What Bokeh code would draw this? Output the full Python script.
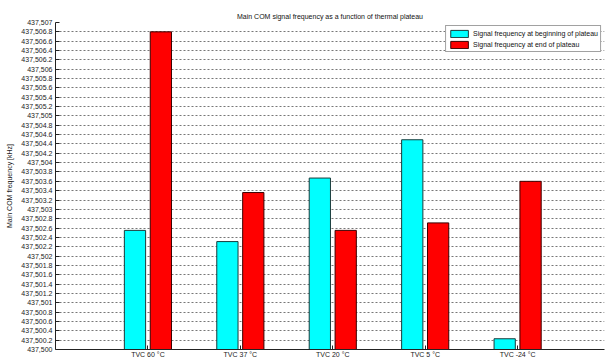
from bokeh.plotting import figure
from bokeh.models import ColumnDataSource, FixedTicker, NumeralTickFormatter, Range1d, Legend, LegendItem
from bokeh.transform import dodge
from bokeh.embed import file_html
from bokeh.resources import INLINE

categories = ["TVC 60 °C", "TVC 37 °C", "TVC 20 °C", "TVC 5 °C", "TVC -24 °C"]
begin_khz = [437502.55, 437502.31, 437503.67, 437504.49, 437500.23]
end_khz = [437506.80, 437503.36, 437502.55, 437502.71, 437503.60]
y_ticks = [round(437500 + 0.2 * i, 1) for i in range(36)]

FONT = "Liberation Sans"
FS = "7px"

src = ColumnDataSource(dict(
    idx=list(range(1, len(categories) + 1)),
    begin=begin_khz,
    end=end_khz,
))

p = figure(width=605, height=360, output_backend="svg", toolbar_location=None,
           x_range=Range1d(0, 5.94), y_range=Range1d(437500, 437507),
           min_border_left=55, min_border_right=1, min_border_top=22, min_border_bottom=0)

p.title.text = "Main COM signal frequency as a function of thermal plateau"
p.title.align = "center"
p.title.text_font = FONT
p.title.text_font_size = FS
p.title.text_font_style = "normal"
p.title.text_color = "#111"
p.title.standoff = 6

r1 = p.vbar(x=dodge("idx", -0.14, range=p.x_range), top="begin", bottom=437500, width=0.23,
            source=src, fill_color="#00FFFF", line_color="#1a3a3a", line_width=1)
r2 = p.vbar(x=dodge("idx", 0.14, range=p.x_range), top="end", bottom=437500, width=0.23,
            source=src, fill_color="#FF0000", line_color="#3a0000", line_width=1)

# axes
p.xaxis.ticker = FixedTicker(ticks=list(range(1, len(categories) + 1)))
p.xaxis.major_label_overrides = {i + 1: c for i, c in enumerate(categories)}
p.yaxis.ticker = FixedTicker(ticks=y_ticks)
p.yaxis.formatter = NumeralTickFormatter(format="0,0.[0]")
p.yaxis.axis_label = "Main COM frequency [kHz]"

for ax in (p.xaxis[0], p.yaxis[0]):
    ax.major_label_text_font = FONT
    ax.major_label_text_font_size = FS
    ax.major_label_text_color = "#222"
    ax.axis_line_color = "#222"
    ax.major_tick_line_color = "#222"
    ax.major_tick_in = 4
    ax.major_tick_out = 0
    ax.minor_tick_line_color = None
    ax.major_label_standoff = 3
p.xaxis.major_label_standoff = 1
p.yaxis.axis_label_text_font = FONT
p.yaxis.axis_label_text_font_size = FS
p.yaxis.axis_label_text_font_style = "normal"
p.yaxis.axis_label_text_color = "#222"
p.yaxis.axis_label_standoff = 5

p.xgrid.grid_line_color = None
p.ygrid.grid_line_color = "#777"
p.ygrid.grid_line_dash = "2 2"
p.ygrid.grid_line_width = 1
p.outline_line_color = None

legend = Legend(items=[
    LegendItem(label="Signal frequency at beginning of plateau", renderers=[r1]),
    LegendItem(label="Signal frequency at end of plateau", renderers=[r2]),
], location="top_right")
legend.margin = 3
legend.padding = 2
legend.spacing = 1
legend.label_text_font = FONT
legend.label_text_font_size = FS
legend.label_text_color = "#111"
legend.label_height = 10
legend.label_standoff = 3
legend.glyph_width = 22
legend.glyph_height = 9
legend.border_line_color = "#444"
legend.border_line_width = 1
legend.background_fill_alpha = 1
p.add_layout(legend)

open("out.html", "w").write(file_html(p, INLINE))
